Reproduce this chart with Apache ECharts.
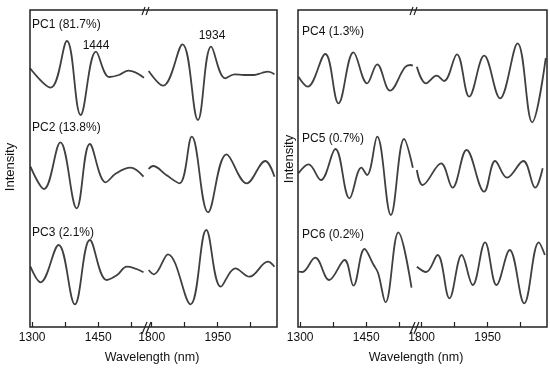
<!DOCTYPE html>
<html>
<head>
<meta charset="utf-8">
<script src="https://cdn.jsdelivr.net/npm/echarts@6/dist/echarts.min.js"></script>
<style>
html,body{margin:0;padding:0;background:#fff;}
#c{width:550px;height:371px;}
</style>
</head>
<body>
<div id="c"></div>
<script>
// ---- data (wavelength in nm, intensity in arbitrary units relative to each curve's baseline) ----
const seg1Ticks = [1300, 1375, 1450, 1525];
const seg2Ticks = [1800, 1875, 1950, 2025];
const seg1Labels = [1300, 1450];
const seg2Labels = [1800, 1950];
const pcNames = ['PC1 (81.7%)', 'PC2 (13.8%)', 'PC3 (2.1%)', 'PC4 (1.3%)', 'PC5 (0.7%)', 'PC6 (0.2%)'];
const pcOffsets = [25.2, 15.2, 5.7, 25.5, 15.5, 5.9];
const peakLabels = ['1444', '1934'];

const pc1Wl1 = [1295, 1342, 1379, 1410, 1445, 1475, 1497, 1519, 1554];
const pc1In1 = [0.67, -1.27, 3.4, -4.0, 2.33, -0.2, 0, 0.43, -0.27];
const pc1Wl2 = [1793, 1826, 1870, 1905, 1935, 1967, 1988, 2010, 2033, 2050, 2064, 2079];
const pc1In2 = [0.4, -1.07, 3.07, -4.5, 2.83, -0.33, 0.07, 0, 0, 0.2, 0.33, 0.07];

const pc2Wl1 = [1296, 1327, 1364, 1401, 1431, 1467, 1491, 1523, 1553];
const pc2In1 = [0.83, -1.4, 3.27, -3.33, 3.1, -0.73, 0.17, 0.73, -0.17];
const pc2Wl2 = [1793, 1803, 1833, 1863, 1891, 1928, 1970, 2016, 2058, 2079];
const pc2In2 = [0.6, 0.9, 0, -0.83, 3.83, -3.73, 2.07, -0.83, 1.4, -0.17];

const pc3Wl1 = [1296, 1319, 1360, 1397, 1431, 1469, 1493, 1515, 1553];
const pc3In1 = [0.33, -1.23, 2.5, -3.43, 3.0, -1.0, -0.5, 0.33, -0.23];
const pc3Wl2 = [1793, 1805, 1837, 1888, 1924, 1957, 1990, 2022, 2064, 2079];
const pc3In2 = [0, -0.43, 1.57, -3.43, 4.0, -1.67, 0.17, -0.67, 0.83, 0.33];

const pc4Wl1 = [1296, 1317, 1357, 1387, 1421, 1452, 1475, 1504, 1538, 1550, 1556];
const pc4In1 = [-0.47, -1.47, 1.8, -3.13, 1.97, -1.13, 0.77, -1.87, 0.47, 0.7, 0.63];
const pc4Wl2 = [1789, 1810, 1834, 1851, 1880, 1908, 1942, 1978, 2018, 2051, 2082];
const pc4In2 = [0.53, -1.13, -0.37, -0.9, 1.77, -2.47, 1.63, -2.63, 2.87, -5.03, 1.4];

const pc5Wl1 = [1296, 1319, 1347, 1380, 1412, 1439, 1452, 1475, 1506, 1536, 1556];
const pc5In1 = [-0.13, 0.77, -0.8, 2.3, -2.63, 0.43, -0.3, 3.53, -4.3, 3.3, 0.43];
const pc5Wl2 = [1789, 1802, 1844, 1870, 1902, 1942, 1967, 1994, 2031, 2058, 2075];
const pc5In2 = [0.2, -1.3, 0.87, -1.57, 2.2, -1.97, 1.1, -0.57, 1.1, -1.57, 0.37];

const pc6Wl1 = [1296, 1305, 1334, 1366, 1401, 1421, 1446, 1467, 1477, 1494, 1523, 1553];
const pc6In1 = [-0.37, -0.4, 1.03, -1.2, 0.8, -1.77, 1.9, 0.3, -0.5, -3.43, 3.57, -1.97];
const pc6Wl2 = [1789, 1810, 1836, 1863, 1891, 1916, 1944, 1970, 2000, 2033, 2066, 2080];
const pc6In2 = [0.13, -0.4, 1.3, -3.03, 1.3, -1.7, 2.57, -1.7, 1.8, -3.53, 2.57, 1.3];

// ---- build ----
const curves = [
  [pc1Wl1, pc1In1, pc1Wl2, pc1In2],
  [pc2Wl1, pc2In1, pc2Wl2, pc2In2],
  [pc3Wl1, pc3In1, pc3Wl2, pc3In2],
  [pc4Wl1, pc4In1, pc4Wl2, pc4In2],
  [pc5Wl1, pc5In1, pc5Wl2, pc5In2],
  [pc6Wl1, pc6In1, pc6Wl2, pc6In2]
];
const FONT = '"Liberation Sans", Arial, sans-serif';
const TXT = '#111';
const LINE = '#404040';
const TOP = 10, H = 317;
const gridDefs = [
  {left: 30, width: 116, min: 1295, max: 1558.6, ticks: seg1Ticks, labels: seg1Labels},
  {left: 146, width: 131, min: 1787, max: 2084.7, ticks: seg2Ticks, labels: seg2Labels},
  {left: 298, width: 116, min: 1295, max: 1558.6, ticks: seg1Ticks, labels: seg1Labels},
  {left: 414, width: 133, min: 1782.5, max: 2084.8, ticks: seg2Ticks, labels: seg2Labels}
];
const grid = gridDefs.map(g => ({left: g.left, top: TOP, width: g.width, height: H, containLabel: false}));
const xAxis = gridDefs.map((g, i) => ({
  type: 'value', gridIndex: i, min: g.min, max: g.max, position: 'bottom',
  axisLine: {show: false, onZero: false},
  splitLine: {show: false},
  axisTick: {show: true, inside: true, length: 5, customValues: g.ticks, lineStyle: {color: '#222', width: 1.2}},
  axisLabel: {show: true, customValues: g.labels, margin: 5, fontSize: 12, color: TXT, fontFamily: FONT,
    formatter: v => String(Math.round(v))}
}));
const yAxis = gridDefs.map((g, i) => ({type: 'value', gridIndex: i, min: 0, max: 31.7, show: false}));

const series = [];
curves.forEach((c, k) => {
  const panel = k < 3 ? 0 : 2;
  const off = pcOffsets[k];
  [0, 1].forEach(s => {
    const wl = c[s * 2], inten = c[s * 2 + 1];
    series.push({
      type: 'line', xAxisIndex: panel + s, yAxisIndex: panel + s,
      data: wl.map((w, j) => [w, inten[j] + off]),
      smooth: 0.38, showSymbol: false, symbol: 'none', silent: true,
      lineStyle: {color: LINE, width: 1.8}, animation: false, clip: false
    });
  });
});

const graphics = [];
// panel boxes
[[30, 247], [298, 249]].forEach(([x, w]) => {
  graphics.push({type: 'rect', shape: {x: x, y: TOP, width: w, height: H}, style: {fill: 'none', stroke: '#222', lineWidth: 1.5}, z: 10});
});
// axis break marks
function brk(x, y0, y1, dx) {
  [0, 4].forEach(o => graphics.push({type: 'line', shape: {x1: x + o, y1: y1, x2: x + o + dx, y2: y0}, style: {stroke: '#222', lineWidth: 1.2}, z: 11}));
}
brk(142, 7, 15, 3); brk(142, 322, 334, 5);
brk(410, 7, 15, 3); brk(410, 322, 334, 5);
// PC labels
const pcPos = [[32, 24.5], [32, 128], [32, 233], [302, 32], [302, 139], [302, 235]];
pcNames.forEach((n, i) => graphics.push({type: 'text', x: pcPos[i][0], y: pcPos[i][1], style: {text: n, fill: TXT, font: '12px ' + FONT, textAlign: 'left', textVerticalAlign: 'middle'}, z: 12}));
// peak annotations
const peakPos = [[96, 46], [212, 36]];
peakLabels.forEach((t, i) => graphics.push({type: 'text', x: peakPos[i][0], y: peakPos[i][1], style: {text: t, fill: TXT, font: '12px ' + FONT, textAlign: 'center', textVerticalAlign: 'middle'}, z: 12}));
// axis names
[[152, 358], [416, 358]].forEach(p => graphics.push({type: 'text', x: p[0], y: p[1], style: {text: 'Wavelength (nm)', fill: TXT, font: '12.5px ' + FONT, textAlign: 'center', textVerticalAlign: 'middle'}, z: 12}));
[[10, 167], [289, 159]].forEach(p => graphics.push({type: 'text', x: p[0], y: p[1], rotation: Math.PI / 2, style: {text: 'Intensity', fill: TXT, font: '13px ' + FONT, textAlign: 'center', textVerticalAlign: 'middle'}, z: 12}));

const chart = echarts.init(document.getElementById('c'), null, {renderer: 'canvas'});
chart.setOption({
  animation: false,
  backgroundColor: '#fff',
  grid, xAxis, yAxis, series,
  graphic: graphics
});
</script>
</body>
</html>
